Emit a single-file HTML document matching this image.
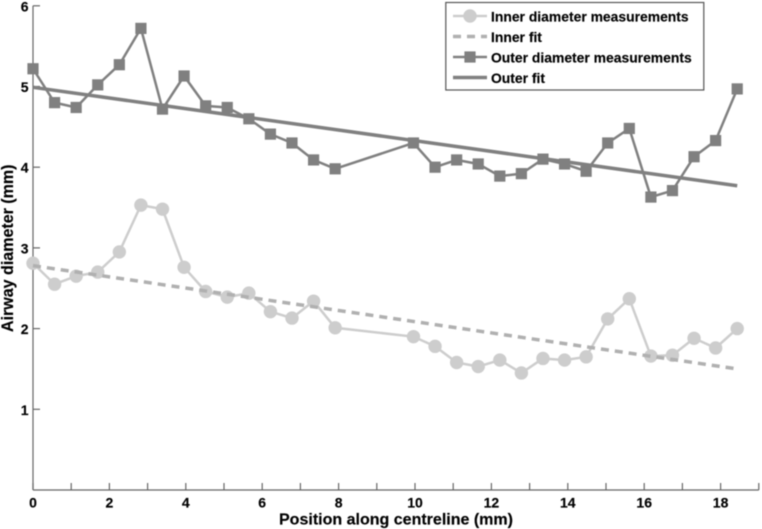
<!DOCTYPE html>
<html>
<head>
<meta charset="utf-8">
<style>
html,body{margin:0;padding:0;background:#fff;}
#chart{display:block;width:762px;height:529px;filter:blur(0.45px);}
text{font-family:"Liberation Sans",sans-serif;font-weight:bold;fill:#000;stroke:#000;stroke-width:0.15px;}
</style>
</head>
<body>
<svg id="chart" xmlns="http://www.w3.org/2000/svg" width="762" height="529" viewBox="0 0 762 529"></svg>
<script>
const positions = [0,0.565,1.13,1.695,2.26,2.825,3.39,3.955,4.52,5.085,5.65,6.215,6.78,7.345,7.91,9.96,10.525,11.09,11.655,12.22,12.785,13.35,13.915,14.48,15.045,15.61,16.175,16.74,17.305,17.87,18.435];
const innerValues = [2.81,2.55,2.65,2.7,2.95,3.53,3.48,2.76,2.46,2.39,2.44,2.21,2.13,2.34,2.01,1.9,1.78,1.58,1.53,1.61,1.45,1.63,1.61,1.65,2.12,2.37,1.66,1.67,1.88,1.76,2.0];
const outerValues = [5.22,4.8,4.74,5.02,5.27,5.72,4.72,5.13,4.76,4.74,4.6,4.41,4.3,4.09,3.98,4.3,4.0,4.09,4.04,3.89,3.92,4.1,4.04,3.95,4.3,4.48,3.63,3.71,4.13,4.33,4.97];
const fitPositions = [0,18.435];
const innerFit = [2.78,1.50];
const outerFit = [4.99,3.77];
const xTicks = [0,1,2,3,4,5,6,7,8,9,10,11,12,13,14,15,16,17,18,19];
const xTickLabels = [0,2,4,6,8,10,12,14,16,18];
const yTicks = [1,2,3,4,5,6];
const yTickLabels = [1,2,3,4,5,6];
const legendLabels = ["Inner diameter measurements","Inner fit","Outer diameter measurements","Outer fit"];

const NS = "http://www.w3.org/2000/svg";
const svg = document.getElementById("chart");
const xScale = v => 33 + v * 38.2;
const yScale = v => 490 - v * 80.7;

function make(tag, attrs, parent, txt){
  const el = document.createElementNS(NS, tag);
  for (const k in attrs) el.setAttribute(k, attrs[k]);
  if (txt !== undefined) el.textContent = txt;
  (parent || svg).appendChild(el);
  return el;
}
function pointsOf(xs, ys){
  return xs.map((x,i) => xScale(x).toFixed(2) + "," + yScale(ys[i]).toFixed(2)).join(" ");
}

/* axes */
const axes = make("g", {stroke:"#666", "stroke-width":1.2, fill:"none"});


const xAxis = make("line", {x1:xScale(0), y1:yScale(0), x2:xScale(19), y2:yScale(0)}, axes);


const yAxis = make("line", {x1:xScale(0), y1:yScale(0), x2:xScale(0), y2:yScale(6)}, axes);


xTicks.forEach(t => {
  const tick = make("line", {x1:xScale(t), y1:yScale(0), x2:xScale(t), y2:yScale(0)-7}, axes);
  
  
});
yTicks.forEach(t => {
  const tick = make("line", {x1:xScale(0), y1:yScale(t), x2:xScale(0)+7, y2:yScale(t)}, axes);
  
  
});
xTickLabels.forEach(t => {
  const label = make("text", {x:xScale(t), y:507.5, "text-anchor":"middle", "font-size":14}, svg, String(t));
  
  
});
yTickLabels.forEach(t => {
  const label = make("text", {x:28.5, y:yScale(t)+5.5, "text-anchor":"end", "font-size":14}, svg, String(t));
  
  
});

const xTitle = make("text", {x:279, y:524.3, "font-size":16, textLength:234, lengthAdjust:"spacingAndGlyphs"}, svg, "Position along centreline (mm)");


const yTitle = make("text", {x:0, y:0, transform:"translate(13,332) rotate(-90)", "font-size":16.5, textLength:167.5, lengthAdjust:"spacingAndGlyphs"}, svg, "Airway diameter (mm)");



/* inner series */
const innerColor = "#cdcdcd", outerColor = "#808080", innerFitColor = "#b0b0b0";
const innerLine = make("polyline", {points:pointsOf(positions, innerValues), fill:"none", stroke:innerColor, "stroke-width":2.5});


positions.forEach((x,i) => {
  const c = make("circle", {cx:xScale(x), cy:yScale(innerValues[i]), r:6.7, fill:innerColor});
  
  
});
const innerFitLine = make("polyline", {points:pointsOf(fitPositions, innerFit), fill:"none", stroke:innerFitColor, "stroke-width":3.5, "stroke-dasharray":"8 6"});



/* outer series */
const outerLine = make("polyline", {points:pointsOf(positions, outerValues), fill:"none", stroke:outerColor, "stroke-width":2.5});


positions.forEach((x,i) => {
  const r = make("rect", {x:xScale(x)-5.6, y:yScale(outerValues[i])-5.6, width:11.2, height:11.2, fill:outerColor});
  
  
});
const outerFitLine = make("polyline", {points:pointsOf(fitPositions, outerFit), fill:"none", stroke:outerColor, "stroke-width":3.5});



/* legend */
const legend = make("g", {});


const legendBox = make("rect", {x:445.8, y:2.5, width:258, height:87.5, fill:"#fff", stroke:"#555", "stroke-width":1.2}, legend);


const rowY = [16, 36.5, 57, 77.5];
legendLabels.forEach((label,i) => {
  const t = make("text", {x:491, y:rowY[i]+5.5, "font-size":13.9}, legend, label);
  
  
});
const s1 = make("line", {x1:453, x2:487, y1:rowY[0], y2:rowY[0], stroke:innerColor, "stroke-width":2.5}, legend);


const s1m = make("circle", {cx:470, cy:rowY[0], r:6.7, fill:innerColor}, legend);


const s2 = make("line", {x1:453, x2:487, y1:rowY[1], y2:rowY[1], stroke:innerFitColor, "stroke-width":3.5, "stroke-dasharray":"8 6"}, legend);


const s3 = make("line", {x1:453, x2:487, y1:rowY[2], y2:rowY[2], stroke:outerColor, "stroke-width":2.5}, legend);


const s3m = make("rect", {x:464.4, y:rowY[2]-5.6, width:11.2, height:11.2, fill:outerColor}, legend);


const s4 = make("line", {x1:453, x2:487, y1:rowY[3], y2:rowY[3], stroke:outerColor, "stroke-width":3.5}, legend);


</script>
</body>
</html>
